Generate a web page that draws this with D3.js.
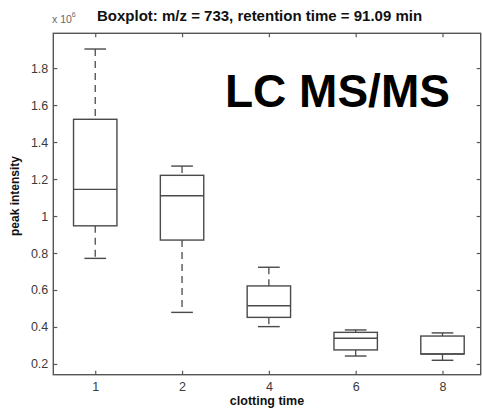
<!DOCTYPE html>
<html>
<head>
<meta charset="utf-8">
<script src="https://cdn.jsdelivr.net/npm/d3@7"></script>
<style>
  html, body { margin: 0; padding: 0; background: #fff; }
  svg { display: block; }
  text { font-family: "Liberation Sans", Arial, Helvetica, sans-serif; }
</style>
</head>
<body>
<svg id="chart" width="482" height="412"></svg>
<script>
// ---- data (values in units of 10^6) ----
const categories   = ["1", "2", "4", "6", "8"];
const whiskerHigh  = [1.903, 1.270, 0.723, 0.384, 0.368];
const q3Values     = [1.523, 1.220, 0.622, 0.371, 0.351];
const medianValues = [1.144, 1.110, 0.515, 0.339, 0.254];
const q1Values     = [0.947, 0.870, 0.452, 0.276, 0.254];
const whiskerLow   = [0.771, 0.479, 0.402, 0.243, 0.220];
const yTickValues  = [0.2, 0.4, 0.6, 0.8, 1, 1.2, 1.4, 1.6, 1.8];
const titleText    = "Boxplot: m/z = 733, retention time = 91.09 min";
const xLabelText   = "clotting time";
const yLabelText   = "peak intensity";
const overlayText  = "LC MS/MS";

const boxes = categories.map((c, i) => ({
  cat: c, pos: i + 1,
  hi: whiskerHigh[i], q3: q3Values[i], med: medianValues[i], q1: q1Values[i], lo: whiskerLow[i]
}));

// ---- layout ----
const pLeft = 53.3, pRight = 480.7, pTop = 33.3, pBottom = 374.7;
const svg = d3.select("#chart");

const x = d3.scaleLinear().domain([0.517, 5.44]).range([pLeft, pRight]);
const y = d3.scaleLinear().domain([0.142, 1.988]).range([pBottom, pTop]);

const axisColor = "#555";
const textColor = "#3a3a3a";
const boxWidth = 0.5;   // in x units
const capWidth = 0.25;

// frame
svg.append("rect")
  .attr("x", pLeft).attr("y", pTop)
  .attr("width", pRight - pLeft).attr("height", pBottom - pTop)
  .attr("fill", "none").attr("stroke", axisColor).attr("stroke-width", 1.4);

function styleAxis(g) {
  g.select(".domain").remove();
  g.selectAll(".tick line").attr("stroke", axisColor).attr("stroke-width", 1.2);
  g.selectAll(".tick text").attr("fill", textColor)
    .style("font-size", "12.5px").style("font-family", '"Liberation Sans", Arial, sans-serif');
}

// bottom axis
svg.append("g").attr("transform", `translate(0,${pBottom})`)
  .call(d3.axisBottom(x).tickValues(boxes.map(b => b.pos))
    .tickFormat(d => categories[d - 1]).tickSize(-4).tickPadding(7))
  .call(styleAxis);
// top axis
svg.append("g").attr("transform", `translate(0,${pTop})`)
  .call(d3.axisTop(x).tickValues(boxes.map(b => b.pos)).tickFormat("").tickSize(-4))
  .call(styleAxis);
// left axis
svg.append("g").attr("transform", `translate(${pLeft},0)`)
  .call(d3.axisLeft(y).tickValues(yTickValues).tickFormat(d3.format("~g")).tickSize(-4).tickPadding(5))
  .call(styleAxis);
// right axis
svg.append("g").attr("transform", `translate(${pRight},0)`)
  .call(d3.axisRight(y).tickValues(yTickValues).tickFormat("").tickSize(-4))
  .call(styleAxis);

// boxes
const lineColor = "#4a4a4a";
const bg = svg.append("g");
boxes.forEach(b => {
  const cx = x(b.pos);
  const hw = (x(b.pos + boxWidth / 2) - x(b.pos - boxWidth / 2)) / 2;
  const cw = (x(b.pos + capWidth / 2) - x(b.pos - capWidth / 2)) / 2;
  // whiskers (dashed)
  bg.append("line").attr("x1", cx).attr("x2", cx).attr("y1", y(b.hi)).attr("y2", y(b.q3))
    .attr("stroke", lineColor).attr("stroke-width", 1.3).attr("stroke-dasharray", "7,5");
  bg.append("line").attr("x1", cx).attr("x2", cx).attr("y1", y(b.q1)).attr("y2", y(b.lo))
    .attr("stroke", lineColor).attr("stroke-width", 1.3).attr("stroke-dasharray", "7,5");
  // caps
  [b.hi, b.lo].forEach(v => {
    bg.append("line").attr("x1", cx - cw).attr("x2", cx + cw).attr("y1", y(v)).attr("y2", y(v))
      .attr("stroke", lineColor).attr("stroke-width", 1.4);
  });
  // box
  bg.append("rect").attr("x", cx - hw).attr("y", y(b.q3))
    .attr("width", 2 * hw).attr("height", y(b.q1) - y(b.q3))
    .attr("fill", "#fff").attr("stroke", lineColor).attr("stroke-width", 1.4);
  // median
  bg.append("line").attr("x1", cx - hw).attr("x2", cx + hw).attr("y1", y(b.med)).attr("y2", y(b.med))
    .attr("stroke", lineColor).attr("stroke-width", 1.4);
});

// title
svg.append("text").attr("x", 97).attr("y", 21)
  .style("font-size", "15px").style("font-weight", "bold").attr("fill", "#111")
  .text(titleText);

// exponent label
const ex = svg.append("text").attr("x", 52).attr("y", 23)
  .style("font-size", "10.5px").attr("fill", "#666");
ex.append("tspan").text("x 10");
ex.append("tspan").attr("dy", -6).style("font-size", "7px").text("6");

// overlay label
svg.append("text").attr("x", 225).attr("y", 107)
  .style("font-size", "46px").style("font-weight", "bold").attr("fill", "#000")
  .text(overlayText);

// axis labels
svg.append("text").attr("x", 267).attr("y", 405)
  .attr("text-anchor", "middle")
  .style("font-size", "12.5px").style("font-weight", "bold").attr("fill", "#111")
  .text(xLabelText);
svg.append("text").attr("transform", `translate(19,196) rotate(-90)`)
  .attr("text-anchor", "middle")
  .style("font-size", "12px").style("font-weight", "bold").attr("fill", "#111")
  .text(yLabelText);
</script>
</body>
</html>
